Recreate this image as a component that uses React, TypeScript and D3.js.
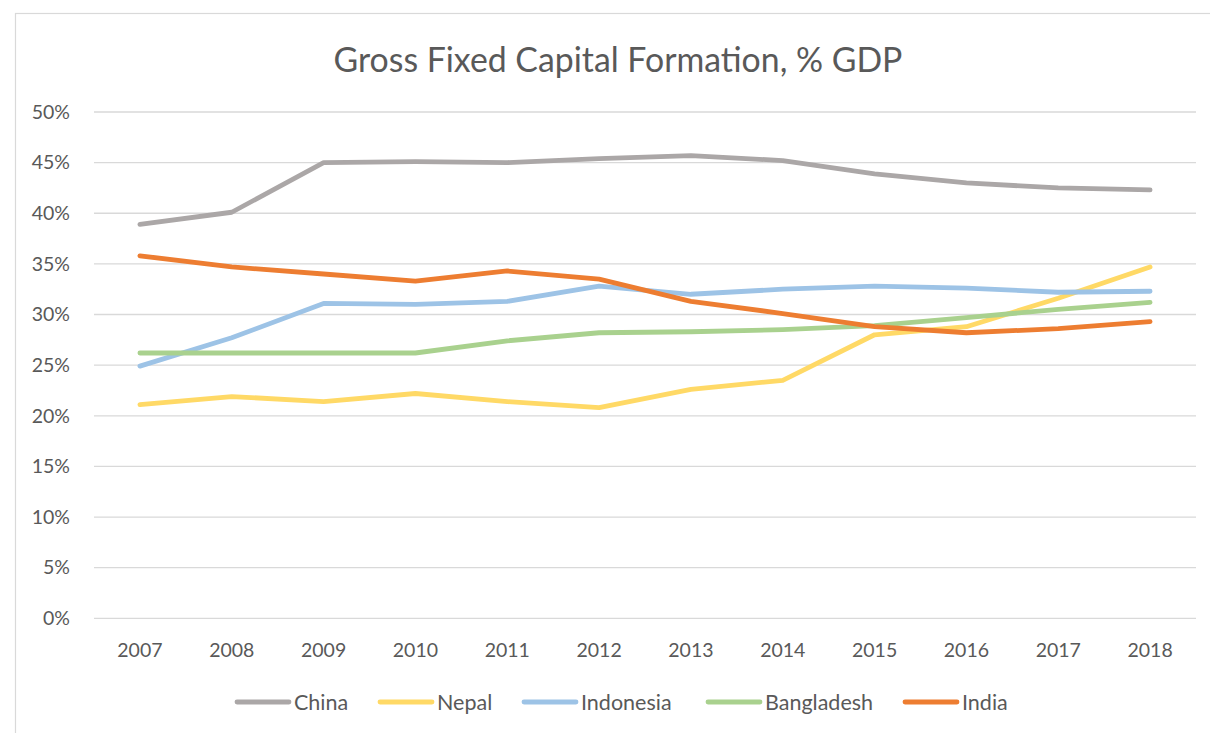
import React, { useEffect, useRef } from "react";
import * as d3 from "d3";

const years = ["2007", "2008", "2009", "2010", "2011", "2012", "2013", "2014", "2015", "2016", "2017", "2018"];
const china = [38.9, 40.1, 45.0, 45.1, 45.0, 45.4, 45.7, 45.2, 43.9, 43.0, 42.5, 42.3];
const nepal = [21.1, 21.9, 21.4, 22.2, 21.4, 20.8, 22.6, 23.5, 28.0, 28.8, 31.6, 34.7];
const indonesia = [24.9, 27.7, 31.1, 31.0, 31.3, 32.8, 32.0, 32.5, 32.8, 32.6, 32.2, 32.3];
const bangladesh = [26.2, 26.2, 26.2, 26.2, 27.4, 28.2, 28.3, 28.5, 28.9, 29.7, 30.5, 31.2];
const india = [35.8, 34.7, 34.0, 33.3, 34.3, 33.5, 31.3, 30.1, 28.8, 28.2, 28.6, 29.3];
const yTicks = [0, 5, 10, 15, 20, 25, 30, 35, 40, 45, 50];

const seriesList = [
  { name: "China", values: china, color: "#ABA7A7" },
  { name: "Nepal", values: nepal, color: "#FFD966" },
  { name: "Indonesia", values: indonesia, color: "#9DC3E6" },
  { name: "Bangladesh", values: bangladesh, color: "#A9D18E" },
  { name: "India", values: india, color: "#ED7D31" },
];

export default function App() {
  const svgRef = useRef<SVGSVGElement>(null);

  useEffect(() => {
    const width = 1210;
    const height = 733;
    const margin = { top: 112, right: 14, bottom: 115, left: 94 };
    const font = "Lato, 'Open Sans', sans-serif";
    const textColor = "#595959";

    const svg = d3.select(svgRef.current);
    svg.selectAll("*").remove();
    svg.attr("width", width).attr("height", height);

    svg.append("rect").attr("width", width).attr("height", height).attr("fill", "#fff");
    // chart frame (cut off on right and bottom)
    svg.append("rect")
      .attr("x", 15.5).attr("y", 13.5)
      .attr("width", 1300).attr("height", 900)
      .attr("fill", "none").attr("stroke", "#D9D9D9").attr("stroke-width", 1.2);

    const x = d3.scaleBand().domain(years).range([margin.left, width - margin.right]);
    const y = d3.scaleLinear().domain([0, 50]).range([height - margin.bottom + 0.3, margin.top]);

    // gridlines
    svg.append("g")
      .selectAll("line")
      .data(yTicks)
      .enter()
      .append("line")
      .attr("x1", margin.left)
      .attr("x2", width - margin.right)
      .attr("y1", (d) => y(d))
      .attr("y2", (d) => y(d))
      .attr("stroke", "#D9D9D9")
      .attr("stroke-width", 1.3);

    // y labels
    svg.append("g")
      .selectAll("text")
      .data(yTicks)
      .enter()
      .append("text")
      .attr("x", 70)
      .attr("y", (d) => y(d))
      .attr("dy", "0.35em")
      .attr("text-anchor", "end")
      .attr("font-family", font)
      .attr("font-size", 19.5)
      .attr("fill", textColor)
      .text((d) => d + "%");

    // x labels
    svg.append("g")
      .selectAll("text")
      .data(years)
      .enter()
      .append("text")
      .attr("x", (d) => (x(d) as number) + x.bandwidth() / 2)
      .attr("y", 650)
      .attr("dy", "0.35em")
      .attr("text-anchor", "middle")
      .attr("font-family", font)
      .attr("font-size", 19.5)
      .attr("fill", textColor)
      .text((d) => d);

    const line = d3.line<number>()
      .x((d, i) => (x(years[i]) as number) + x.bandwidth() / 2)
      .y((d) => y(d));

    svg.append("g")
      .selectAll("path")
      .data(seriesList)
      .enter()
      .append("path")
      .attr("d", (s) => line(s.values))
      .attr("fill", "none")
      .attr("stroke", (s) => s.color)
      .attr("stroke-width", 4.8)
      .attr("stroke-linecap", "round")
      .attr("stroke-linejoin", "round");

    // title
    svg.append("text")
      .attr("x", 618)
      .attr("y", 60)
      .attr("dy", "0.35em")
      .attr("text-anchor", "middle")
      .attr("font-family", font)
      .attr("font-size", 33.8)
      .attr("fill", textColor)
      .text("Gross Fixed Capital Formation, % GDP");

    // legend
    const legendX = [237, 380, 524, 708, 905];
    const legend = svg.append("g")
      .selectAll("g")
      .data(seriesList)
      .enter()
      .append("g")
      .attr("transform", (s, i) => `translate(${legendX[i]}, 702)`);
    legend.append("line")
      .attr("x1", 0).attr("x2", 52)
      .attr("stroke", (s) => s.color)
      .attr("stroke-width", 4.8)
      .attr("stroke-linecap", "round");
    legend.append("text")
      .attr("x", 57)
      .attr("dy", "0.35em")
      .attr("font-family", font)
      .attr("font-size", 21.5)
      .attr("fill", textColor)
      .text((s) => s.name);
  }, []);

  return (
    <div style={{ position: "absolute", left: 0, top: 0 }}>
      <svg ref={svgRef}></svg>
    </div>
  );
}
